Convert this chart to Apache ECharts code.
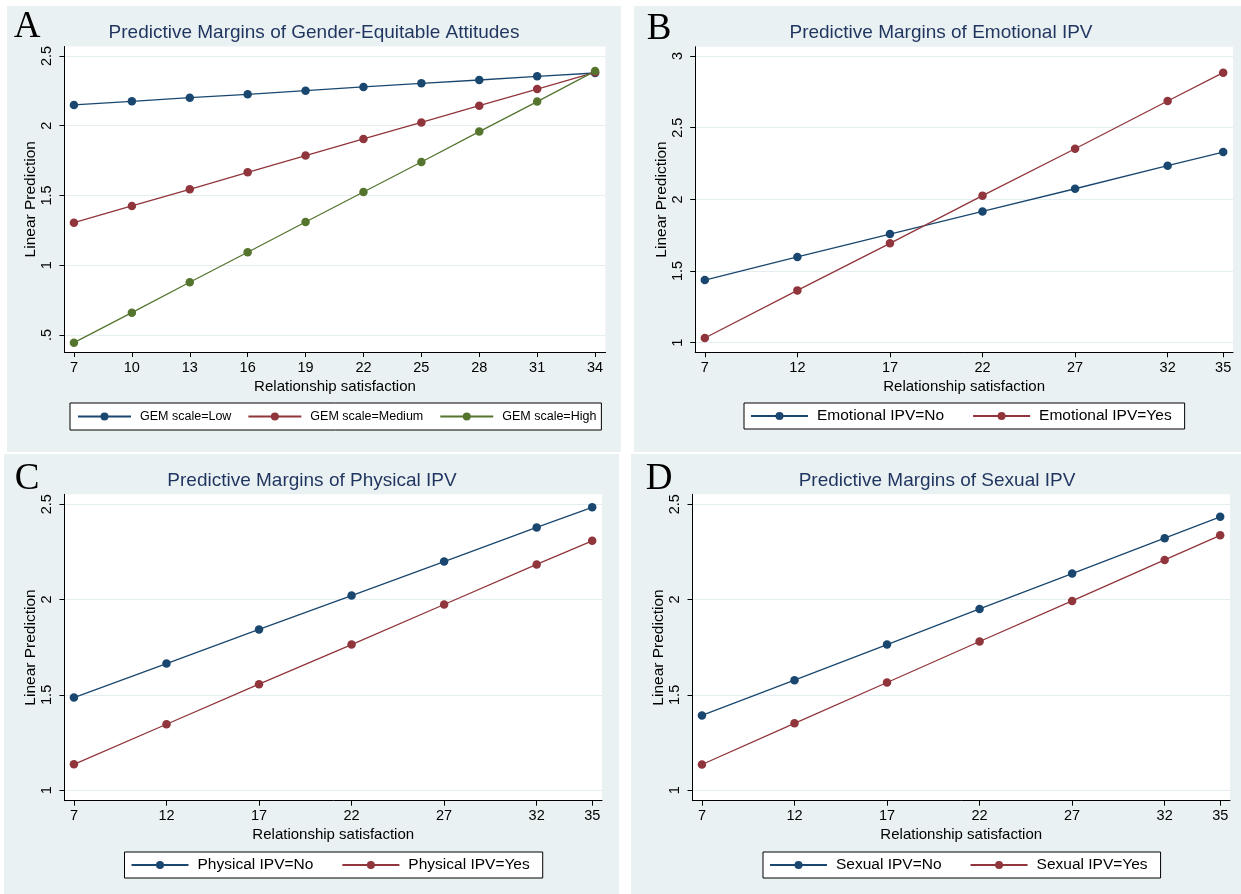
<!DOCTYPE html>
<html><head><meta charset="utf-8">
<script src="https://cdn.jsdelivr.net/npm/echarts@6/dist/echarts.min.js"></script>
<style>html,body{margin:0;padding:0;background:#fff}#c{width:1241px;height:894px}</style>
</head><body><div id="c"></div>
<script>
// ---------- data ----------
const xA = [7, 10, 13, 16, 19, 22, 25, 28, 31, 34];
const gemLow = [2.149, 2.175, 2.201, 2.225, 2.251, 2.278, 2.304, 2.328, 2.354, 2.378];
const gemMedium = [1.305, 1.425, 1.544, 1.666, 1.786, 1.905, 2.024, 2.144, 2.263, 2.383];
const gemHigh = [0.445, 0.660, 0.878, 1.093, 1.310, 1.525, 1.740, 1.958, 2.173, 2.392];

const xB = [7, 12, 17, 22, 27, 32, 35];
const emoNo = [1.437, 1.598, 1.758, 1.916, 2.074, 2.235, 2.330];
const emoYes = [1.033, 1.365, 1.693, 2.026, 2.353, 2.686, 2.884];
const phyNo = [1.486, 1.664, 1.843, 2.021, 2.199, 2.378, 2.484];
const phyYes = [1.136, 1.346, 1.556, 1.764, 1.974, 2.184, 2.308];
const sexNo = [1.392, 1.577, 1.764, 1.951, 2.136, 2.322, 2.434];
const sexYes = [1.135, 1.351, 1.565, 1.780, 1.993, 2.208, 2.337];

const xTicksA = [7, 10, 13, 16, 19, 22, 25, 28, 31, 34];
const xTicksBCD = [7, 12, 17, 22, 27, 32, 35];
const yTicksA = [0.5, 1, 1.5, 2, 2.5];
const yTicksB = [1, 1.5, 2, 2.5, 3];
const yTicksCD = [1, 1.5, 2, 2.5];

const panelTitles = [
  'Predictive Margins of Gender-Equitable Attitudes',
  'Predictive Margins of Emotional IPV',
  'Predictive Margins of Physical IPV',
  'Predictive Margins of Sexual IPV'
];
const panelLetters = ['A', 'B', 'C', 'D'];
const namesA = ['GEM scale=Low', 'GEM scale=Medium', 'GEM scale=High'];
const namesB = ['Emotional IPV=No', 'Emotional IPV=Yes'];
const namesC = ['Physical IPV=No', 'Physical IPV=Yes'];
const namesD = ['Sexual IPV=No', 'Sexual IPV=Yes'];

// ---------- styling ----------
const FONT = '"Liberation Sans", Arial, sans-serif';
const SERIF = '"Liberation Serif", "Times New Roman", serif';
const NAVY = '#1a476f', MAROON = '#90353b', GREEN = '#55752f';
const BG = '#eaf1f3', GRIDC = '#e4edf0', TITLEC = '#1f355f';

const pair = (xs, ys) => xs.map((x, i) => [x, ys[i]]);

const grids = [
  {left: 64.5, top: 46.5, width: 541, height: 305.5},
  {left: 695.2, top: 46.7, width: 537.8, height: 305.6},
  {left: 64.5, top: 494.3, width: 537.5, height: 306.4},
  {left: 692.5, top: 494.3, width: 537.5, height: 306.4}
].map(g => Object.assign(g, {show: true, backgroundColor: '#fff', borderWidth: 0, containLabel: false}));

function xAxis(i, min, max, ticks) {
  return {
    type: 'value', gridIndex: i, min, max,
    name: 'Relationship satisfaction', nameLocation: 'middle', nameGap: 27,
    nameTextStyle: {color: '#000', fontSize: 15, fontFamily: FONT},
    axisLine: {show: true, onZero: false, lineStyle: {color: '#000', width: 1}},
    axisTick: {show: true, length: 5, customValues: ticks, lineStyle: {color: '#000', width: 1}},
    axisLabel: {customValues: ticks, color: '#000', fontSize: 14.5, margin: 8, fontFamily: FONT},
    splitLine: {show: false}
  };
}
function yAxis(i, min, max, ticks, gap) {
  return {
    type: 'value', gridIndex: i, min, max,
    name: 'Linear Prediction', nameLocation: 'middle', nameGap: gap,
    nameTextStyle: {color: '#000', fontSize: 15.5, fontFamily: FONT},
    axisLine: {show: true, onZero: false, lineStyle: {color: '#000', width: 1}},
    axisTick: {show: true, length: 5, customValues: ticks, lineStyle: {color: '#000', width: 1}},
    axisLabel: {customValues: ticks, color: '#000', fontSize: 14.5, margin: 10, rotate: 90, fontFamily: FONT,
      formatter: v => (v < 1 ? String(v).replace(/^0/, '') : String(v))},
    splitLine: {show: true, lineStyle: {color: GRIDC, width: 1}}
  };
}

function line(name, i, data, color) {
  return {
    type: 'line', name, xAxisIndex: i, yAxisIndex: i, data,
    symbol: 'circle', symbolSize: 8.5, showSymbol: true,
    lineStyle: {color, width: 1.3}, itemStyle: {color},
    emphasis: {disabled: true}, animation: false
  };
}

function legend(names, left, top, fontSize, pad, gap, iw) {
  return {
    data: names, left, top, orient: 'horizontal',
    itemWidth: iw, itemHeight: 10, itemGap: gap,
    padding: pad, borderColor: '#000', borderWidth: 1, backgroundColor: '#fff', borderRadius: 0,
    textStyle: {color: '#000', fontSize, fontFamily: FONT, padding: [0, 0, 0, 4]},
    selectedMode: false
  };
}

const panelBoxes = [
  {x: 7, y: 6, w: 614, h: 446},
  {x: 634, y: 6, w: 607, h: 446},
  {x: 4, y: 454, w: 615, h: 440},
  {x: 631, y: 454, w: 610, h: 440}
];
const titlePos = [[314, 33], [941, 33], [312, 481], [937, 481]];
const letterPos = [[27, 27], [659, 29], [27, 479], [659, 479]];

const graphic = [];
panelBoxes.forEach(b => graphic.push({type: 'rect', z: -100, shape: {x: b.x, y: b.y, width: b.w, height: b.h}, style: {fill: BG}, silent: true}));
panelTitles.forEach((t, i) => graphic.push({type: 'text', x: titlePos[i][0], y: titlePos[i][1],
  style: {text: t, fill: TITLEC, fontSize: 19, fontFamily: FONT, align: 'center', verticalAlign: 'middle'}}));
panelLetters.forEach((t, i) => graphic.push({type: 'text', x: letterPos[i][0], y: letterPos[i][1],
  style: {text: t, fill: '#000', fontSize: 37, fontFamily: SERIF, align: 'center', verticalAlign: 'middle'}}));

const option = {
  backgroundColor: '#fff',
  animation: false,
  graphic,
  grid: grids,
  xAxis: [
    xAxis(0, 6.51, 34.54, xTicksA),
    xAxis(1, 6.48, 35.53, xTicksBCD),
    xAxis(2, 6.49, 35.53, xTicksBCD),
    xAxis(3, 6.49, 35.53, xTicksBCD)
  ],
  yAxis: [
    yAxis(0, 0.378, 2.568, yTicksA, 20),
    yAxis(1, 0.933, 3.065, yTicksB, 25),
    yAxis(2, 0.945, 2.552, yTicksCD, 25.5),
    yAxis(3, 0.945, 2.552, yTicksCD, 25.5)
  ],
  legend: [
    legend(namesA, 70, 403, 12.5, [7, 5, 7, 7], 16, 53),
    legend(namesB, 744, 403, 15.5, [5, 13, 5, 6], 28, 57),
    legend(namesC, 124.5, 852, 15.5, [5, 13, 5, 6], 28, 57),
    legend(namesD, 763, 852, 15.5, [5, 13, 5, 6], 28, 57)
  ],
  series: [
    line(namesA[0], 0, pair(xA, gemLow), NAVY),
    line(namesA[1], 0, pair(xA, gemMedium), MAROON),
    line(namesA[2], 0, pair(xA, gemHigh), GREEN),
    line(namesB[0], 1, pair(xB, emoNo), NAVY),
    line(namesB[1], 1, pair(xB, emoYes), MAROON),
    line(namesC[0], 2, pair(xB, phyNo), NAVY),
    line(namesC[1], 2, pair(xB, phyYes), MAROON),
    line(namesD[0], 3, pair(xB, sexNo), NAVY),
    line(namesD[1], 3, pair(xB, sexYes), MAROON)
  ]
};
const chart = echarts.init(document.getElementById('c'), null, {renderer: 'canvas'});
chart.setOption(option);
</script>
</body></html>
